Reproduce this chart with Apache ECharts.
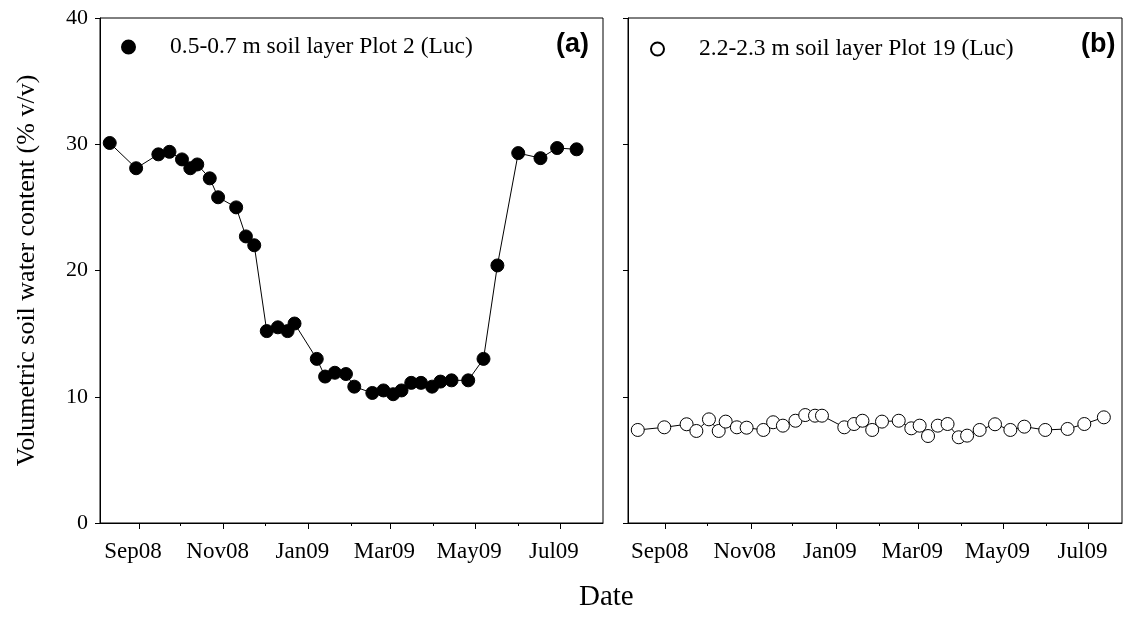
<!DOCTYPE html>
<html>
<head>
<meta charset="utf-8">
<script src="https://cdn.jsdelivr.net/npm/echarts@6/dist/echarts.min.js"></script>
<style>html,body{margin:0;padding:0;background:#fff;}#c{width:1126px;height:622px;}</style>
</head>
<body>
<div id="c"></div>
<script>
const datesA = ['2008-08-11','2008-08-30','2008-09-15','2008-09-23','2008-10-02','2008-10-08','2008-10-13','2008-10-22','2008-10-28','2008-11-10','2008-11-17','2008-11-23','2008-12-02','2008-12-10','2008-12-17','2008-12-22','2009-01-07','2009-01-13','2009-01-20','2009-01-28','2009-02-03','2009-02-16','2009-02-24','2009-03-03','2009-03-09','2009-03-16','2009-03-23','2009-03-31','2009-04-06','2009-04-14','2009-04-26','2009-05-07','2009-05-17','2009-06-01','2009-06-17','2009-06-29','2009-07-13'];
const valuesA = [30.1,28.1,29.2,29.4,28.8,28.1,28.4,27.3,25.8,25.0,22.7,22.0,15.2,15.5,15.2,15.8,13.0,11.6,11.9,11.8,10.8,10.3,10.5,10.2,10.5,11.1,11.1,10.8,11.2,11.3,11.3,13.0,20.4,29.3,28.9,29.7,29.6];
const datesB = ['2008-08-12','2008-08-31','2008-09-16','2008-09-23','2008-10-02','2008-10-09','2008-10-14','2008-10-22','2008-10-29','2008-11-10','2008-11-17','2008-11-24','2008-12-03','2008-12-10','2008-12-17','2008-12-22','2009-01-07','2009-01-14','2009-01-20','2009-01-27','2009-02-03','2009-02-15','2009-02-24','2009-03-02','2009-03-08','2009-03-15','2009-03-22','2009-03-30','2009-04-05','2009-04-14','2009-04-25','2009-05-06','2009-05-16','2009-05-31','2009-06-16','2009-06-28','2009-07-12'];
const valuesB = [7.37,7.58,7.82,7.29,8.21,7.29,8.03,7.58,7.55,7.37,7.98,7.71,8.1,8.55,8.5,8.5,7.58,7.84,8.1,7.37,8.03,8.1,7.5,7.71,6.89,7.71,7.84,6.79,6.92,7.37,7.82,7.37,7.63,7.37,7.45,7.84,8.37];
const majorTicks = ['2008-09-01','2008-11-01','2009-01-01','2009-03-01','2009-05-01','2009-07-01'];
const minorTicks = ['2008-10-01','2008-12-01','2009-02-01','2009-04-01','2009-06-01'];
const monthNames = ['Jan','Feb','Mar','Apr','May','Jun','Jul','Aug','Sep','Oct','Nov','Dec'];
const nameA = '0.5-0.7 m soil layer Plot 2 (Luc)';
const nameB = '2.2-2.3 m soil layer Plot 19 (Luc)';
const yTitle = 'Volumetric soil water content (% v/v)';
const xTitle = 'Date';

function ts(s){ const p = s.split('-').map(Number); return Date.UTC(p[0], p[1]-1, p[2]); }
function fmt(v){ const d = new Date(v); return monthNames[d.getUTCMonth()] + String(d.getUTCFullYear()).slice(2); }

const serif = 'Liberation Serif';
const grids = [
  {left:100, top:18, width:503, height:505, show:true, borderColor:'#000', borderWidth:1},
  {left:628, top:18, width:494, height:505, show:true, borderColor:'#000', borderWidth:1}
];
const ranges = [['2008-08-04','2009-08-01'],['2008-08-05','2009-07-25']];

const xAxes = [];
[0,1].forEach(g => {
  xAxes.push({
    type:'value', gridIndex:g, min:ts(ranges[g][0]), max:ts(ranges[g][1]),
    splitLine:{show:false},
    axisLine:{lineStyle:{color:'#000', width:1}},
    axisTick:{show:true, length:6, lineStyle:{color:'#000'}, customValues: majorTicks.map(ts)},
    axisLabel:{show:true, customValues: majorTicks.map(ts), formatter: fmt, color:'#000', fontFamily:serif, fontSize:23, margin:17, padding:[0,12,0,0]}
  });
  xAxes.push({
    type:'value', gridIndex:g, min:ts(ranges[g][0]), max:ts(ranges[g][1]), position:'bottom',
    splitLine:{show:false},
    axisLine:{show:false},
    axisTick:{show:true, length:3, lineStyle:{color:'#000'}, customValues: minorTicks.map(ts)},
    axisLabel:{show:false}
  });
});

const yAxes = [0,1].map(g => ({
  type:'value', gridIndex:g, min:0, max:40, interval:10,
  splitLine:{show:false},
  axisLine:{show:true, lineStyle:{color:'#000'}},
  axisTick:{show:true, length:5, lineStyle:{color:'#000'}},
  axisLabel:{show: g===0, color:'#000', fontFamily:serif, fontSize:22, margin:12},
  name: g===0 ? yTitle : '', nameLocation:'middle', nameGap:60,
  nameTextStyle:{fontFamily:serif, fontSize:26, color:'#000'}
}));

const chart = echarts.init(document.getElementById('c'), null, {renderer:'canvas'});
chart.setOption({
  animation:false,
  backgroundColor:'#fff',
  grid: grids,
  xAxis: xAxes,
  yAxis: yAxes,
  legend: [
    {left:121, top:35, padding:0, itemWidth:13, itemHeight:13, icon:'circle', data:[nameA],
     textStyle:{fontFamily:serif, fontSize:23.5, color:'#000', padding:[0,0,0,30]}},
    {left:650, top:37, padding:0, itemWidth:13, itemHeight:13, icon:'circle', data:[nameB],
     textStyle:{fontFamily:serif, fontSize:23.5, color:'#000', padding:[0,0,0,30]}}
  ],
  title: [
    {text:'(a)', left:556, top:31, padding:0, textStyle:{fontFamily:'Liberation Sans', fontWeight:'bold', fontSize:27, color:'#000'}},
    {text:'(b)', left:1081, top:31, padding:0, textStyle:{fontFamily:'Liberation Sans', fontWeight:'bold', fontSize:27, color:'#000'}}
  ],
  graphic: [
    {type:'text', left:579, top:583, style:{text:xTitle, font:'29px "Liberation Serif"', fill:'#000'}}
  ],
  series: [
    {name:nameA, type:'line', xAxisIndex:0, yAxisIndex:0,
     data: datesA.map((d,i)=>[ts(d), valuesA[i]]),
     symbol:'circle', symbolSize:13, showAllSymbol:true,
     lineStyle:{color:'#000', width:1},
     itemStyle:{color:'#000', borderColor:'#000', borderWidth:1}},
    {name:nameB, type:'line', xAxisIndex:2, yAxisIndex:1,
     data: datesB.map((d,i)=>[ts(d), valuesB[i]]),
     symbol:'circle', symbolSize:13, showAllSymbol:true,
     lineStyle:{color:'#000', width:1},
     itemStyle:{color:'#fff', borderColor:'#000', borderWidth:1}}
  ]
});
</script>
</body>
</html>
